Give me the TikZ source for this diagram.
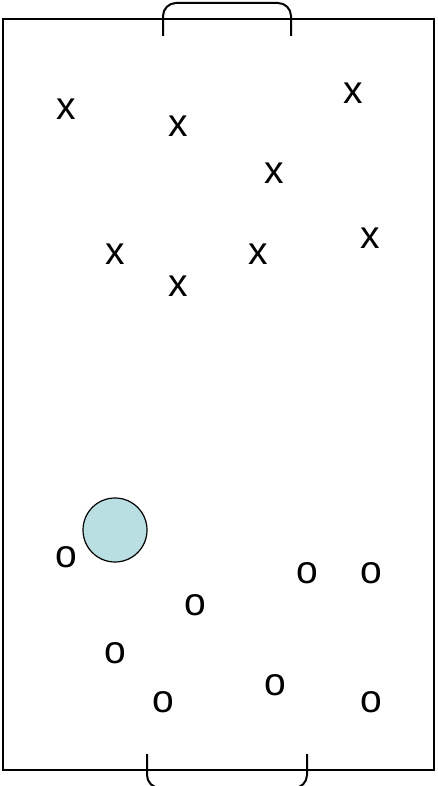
\documentclass[tikz,border=0pt]{standalone}
\usepackage{fontspec}
\setmainfont{Liberation Sans}
\definecolor{ballblue}{HTML}{B9DFE3}
\begin{document}
\begin{tikzpicture}[x=1pt,y=-1pt,line width=2pt,
    player/.style={inner sep=0pt,font=\fontsize{39}{41}\selectfont}]
        \useasboundingbox (0,0) rectangle (437,786);

        % pitch
        \draw (3,19) rectangle (434,770);

        % goals
        \draw[rounded corners=13pt] (163,36) -- (163,3) -- (291,3) -- (291,36);
        \draw[rounded corners=13pt] (147,754) -- (147,788) -- (307,788) -- (307,754);

        % ball
        \draw[fill=ballblue,line width=1.2pt] (115,530) circle (32);

        % team x
        \foreach \p [count=\i] in {(66,109),(178,126),(353,93),(274,173),
                                   (115,254),(258,254),(370,238),(178,286)} {
            \node[player] (x\i) at \p {x};
        }

        % team o
        \foreach \p [count=\i] in {(66,557),(195,605),(307,573),(371,573),
                                   (115,653),(163,702),(275,685),(371,702)} {
            \node[player] (o\i) at \p {o};
        }
    \end{tikzpicture}
\end{document}
